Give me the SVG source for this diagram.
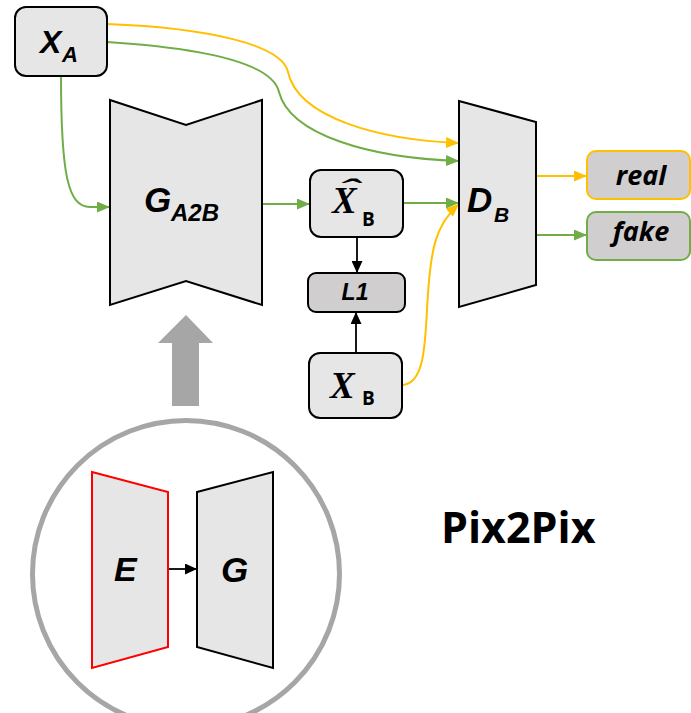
<svg xmlns="http://www.w3.org/2000/svg" width="691" height="713" viewBox="0 0 691 713">
  <style>
    .box { fill: #E6E6E6; stroke: #000; stroke-width: 2; }
    .dark { fill: #D0CECE; }
    .net { fill: #E6E6E6; stroke: #000; stroke-width: 2; stroke-linejoin: miter; }
    .lbl { font-family: "Liberation Sans", Arial, sans-serif; font-weight: bold; font-style: italic; fill: #000; }
    .word { font-family: "Open Sans", "Liberation Sans", sans-serif; font-weight: bold; font-style: italic; fill: #000; }
    .sub { font-family: "Open Sans", "Liberation Sans", sans-serif; font-weight: bold; fill: #000; }
    .math { font-family: "Liberation Serif", "DejaVu Serif", serif; font-weight: bold; font-style: italic; fill: #000; }
    .g { fill: none; stroke: #70AD47; stroke-width: 2; }
    .y { fill: none; stroke: #FFC000; stroke-width: 2; }
    .k { fill: none; stroke: #000; stroke-width: 1.8; }
  </style>
  <defs>
    <marker id="ah-green" markerUnits="userSpaceOnUse" markerWidth="13" markerHeight="11" refX="13" refY="5.5" orient="auto">
      <path d="M0,0 L13,5.5 L0,11 z" fill="#70AD47"/>
    </marker>
    <marker id="ah-yellow" markerUnits="userSpaceOnUse" markerWidth="13" markerHeight="11" refX="13" refY="5.5" orient="auto">
      <path d="M0,0 L13,5.5 L0,11 z" fill="#FFC000"/>
    </marker>
    <marker id="ah-black" markerUnits="userSpaceOnUse" markerWidth="12" markerHeight="11" refX="12" refY="5.5" orient="auto">
      <path d="M0,0 L12,5.5 L0,11 z" fill="#000"/>
    </marker>
  </defs>

  <!-- connectors -->
  <g id="connectors">
    <path class="y" d="M107,24 C210,28 282,45 288,72 C298,118 380,140 459,143" marker-end="url(#ah-yellow)"/>
    <path class="g" d="M107,42 C200,48 272,62 279,92 C290,135 370,158 459,161" marker-end="url(#ah-green)"/>
    <path class="g" d="M61,76 C61,175 68,207 90,207 L110,207" marker-end="url(#ah-green)"/>
    <path class="g" d="M262,204 L310,204" marker-end="url(#ah-green)"/>
    <path class="g" d="M403,203 L459,203" marker-end="url(#ah-green)"/>
    <path class="y" d="M403,385 C423,383 425,350 427,310 C430,250 435,225 459,204" marker-end="url(#ah-yellow)"/>
    <path class="k" d="M357,237 L357,273" marker-end="url(#ah-black)"/>
    <path class="k" d="M356,353 L356,312" marker-end="url(#ah-black)"/>
    <path class="y" d="M536,176 L587,176" marker-end="url(#ah-yellow)"/>
    <path class="g" d="M536,235 L587,235" marker-end="url(#ah-green)"/>
    <path class="k" d="M168,569 L197,569" marker-end="url(#ah-black)"/>
  </g>

  <!-- input image A -->
  <g id="x-a">
    <rect class="box" x="15" y="7" width="92" height="69" rx="11"/>
    <text class="lbl" x="40" y="53" font-size="32">X</text>
    <text class="lbl" x="62" y="62" font-size="22">A</text>
  </g>

  <!-- generator A to B -->
  <g id="g-a2b">
    <polygon class="net" points="110,100 186,125 262,100 262,305 186,281 110,305"/>
    <text class="lbl" x="144" y="212" font-size="35">G</text>
    <text class="lbl" x="171" y="221" font-size="24">A2B</text>
  </g>

  <!-- generated B -->
  <g id="x-b-hat">
    <rect class="box" x="310" y="170" width="93" height="67" rx="11"/>
    <text class="math" x="332" y="213" font-size="37">X</text>
    <text class="math" font-size="30" text-anchor="middle" transform="translate(349,199) scale(2.1,1)">ˆ</text>
    <text class="sub" x="362" y="226" font-size="19">B</text>
  </g>

  <!-- L1 loss -->
  <g id="l1">
    <rect class="box dark" x="308" y="273" width="97" height="39" rx="8"/>
    <text class="lbl" x="355" y="300" font-size="23" text-anchor="middle">L1</text>
  </g>

  <!-- real B -->
  <g id="x-b">
    <rect class="box" x="309" y="353" width="93" height="65" rx="11"/>
    <text class="math" x="330" y="398" font-size="37">X</text>
    <text class="sub" x="362" y="405" font-size="19">B</text>
  </g>

  <!-- discriminator B -->
  <g id="d-b">
    <polygon class="net" points="459,101 536,122 536,285 459,307"/>
    <text class="lbl" x="467" y="212" font-size="35">D</text>
    <text class="lbl" x="494" y="222" font-size="21">B</text>
  </g>

  <!-- outputs -->
  <g id="real">
    <rect class="dark" x="587" y="151" width="103" height="48" rx="9" stroke="#FFC000" stroke-width="2"/>
    <text class="word" x="641" y="185" font-size="27" text-anchor="middle">real</text>
  </g>
  <g id="fake">
    <rect class="dark" x="587" y="212" width="103" height="48" rx="9" stroke="#70AD47" stroke-width="2"/>
    <text class="word" x="641" y="241" font-size="27" text-anchor="middle">fake</text>
  </g>

  <!-- upward block arrow -->
  <g id="up-arrow">
    <polygon points="186,315 213,343 199,343 199,406 172,406 172,343 158,343" fill="#A6A6A6"/>
  </g>

  <!-- encoder / generator detail -->
  <g id="detail">
    <circle cx="186" cy="574" r="153.5" fill="none" stroke="#A6A6A6" stroke-width="5"/>
  </g>
  <g id="enc-e">
    <polygon points="92,472 168,492 168,647 92,668" fill="#E6E6E6" stroke="#FF0000" stroke-width="2"/>
    <text class="lbl" x="114" y="581" font-size="34">E</text>
  </g>
  <g id="gen-g">
    <polygon class="net" points="197,492 273,472 273,668 197,647"/>
    <text class="lbl" x="221" y="582" font-size="35">G</text>
  </g>

  <g id="title">
    <text x="441" y="543" font-family="Open Sans, Liberation Sans, sans-serif" font-weight="bold" font-size="43">Pix2Pix</text>
  </g>
</svg>
